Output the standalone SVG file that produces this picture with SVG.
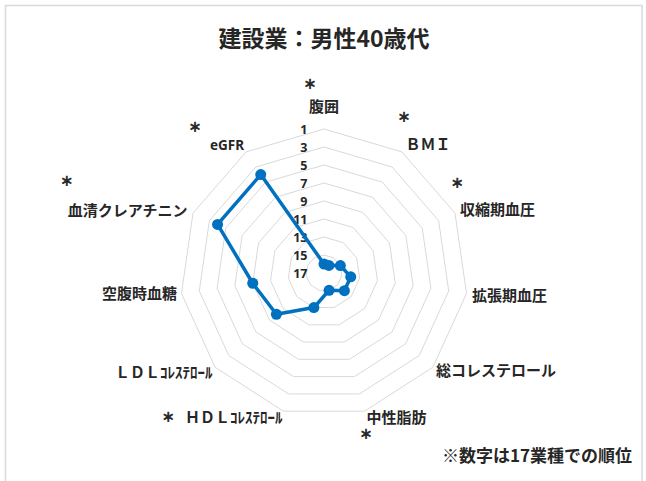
<svg xmlns="http://www.w3.org/2000/svg" width="646" height="481" viewBox="0 0 646 481">
<style>
.jp{font-family:"Noto Sans CJK JP","Noto Sans",sans-serif;font-weight:700;fill:#262626}
.lbl{font-size:15px}
.ast{font-size:12.5px;text-anchor:middle;stroke:#262626;stroke-width:0.7}
.tick{font-family:"Noto Sans","Liberation Sans",sans-serif;font-weight:700;font-size:12.5px;fill:#262626;text-anchor:end}
.ring{fill:none;stroke:#d9d9d9;stroke-width:1}
.series{fill:none;stroke:#0070c0;stroke-width:3.5;stroke-linejoin:round}
.mk{fill:#0070c0}
</style>
<rect width="646" height="481" fill="#ffffff"/>
<path d="M5.5 481V5.5H642V481" fill="none" stroke="#d9d9d9" stroke-width="1.5"/>
<text class="jp" x="324" y="47" font-size="23" text-anchor="middle">建設業：男性40歳代</text>
<g id="grid">
<polygon class="ring" points="324,255 333.73,257.86 340.37,265.52 341.82,275.56 337.6,284.79 329.07,290.27 318.93,290.27 310.4,284.79 306.18,275.56 307.63,265.52 314.27,257.86"/>
<polygon class="ring" points="324,237 343.46,242.71 356.75,258.04 359.63,278.12 351.21,296.57 334.14,307.54 313.86,307.54 296.79,296.57 288.37,278.12 291.25,258.04 304.54,242.71"/>
<polygon class="ring" points="324,219 353.19,227.57 373.12,250.57 377.45,280.68 364.81,308.36 339.21,324.81 308.79,324.81 283.19,308.36 270.55,280.68 274.88,250.57 294.81,227.57"/>
<polygon class="ring" points="324,201 362.93,212.43 389.49,243.09 395.27,283.25 378.41,320.15 344.28,342.08 303.72,342.08 269.59,320.15 252.73,283.25 258.51,243.09 285.07,212.43"/>
<polygon class="ring" points="324,183 372.66,197.29 405.87,235.61 413.08,285.81 392.02,331.94 349.36,359.35 298.64,359.35 255.98,331.94 234.92,285.81 242.13,235.61 275.34,197.29"/>
<polygon class="ring" points="324,165 382.39,182.14 422.24,228.13 430.9,288.37 405.62,343.72 354.43,376.62 293.57,376.62 242.38,343.72 217.1,288.37 225.76,228.13 265.61,182.14"/>
<polygon class="ring" points="324,147 392.12,167 438.61,220.66 448.72,290.93 419.22,355.51 359.5,393.9 288.5,393.9 228.78,355.51 199.28,290.93 209.39,220.66 255.88,167"/>
<polygon class="ring" points="324,129 401.85,151.86 454.99,213.18 466.53,293.49 432.83,367.3 364.57,411.17 283.43,411.17 215.17,367.3 181.47,293.49 193.01,213.18 246.15,151.86"/>
</g>
<g id="ticks">
<text class="tick" x="307.5" y="133.5">1</text>
<text class="tick" x="307.5" y="151.5">3</text>
<text class="tick" x="307.5" y="169.5">5</text>
<text class="tick" x="307.5" y="187.5">7</text>
<text class="tick" x="307.5" y="205.5">9</text>
<text class="tick" x="307.5" y="223.5">11</text>
<text class="tick" x="307.5" y="241.5">13</text>
<text class="tick" x="307.5" y="259.5">15</text>
<text class="tick" x="307.5" y="277.5">17</text>
</g>
<g id="connectors">
<polygon class="series" points="324,264 328.87,265.43 340.37,265.52 350.73,276.84 344.41,290.68 329.07,290.27 313.86,307.54 276.39,314.26 252.73,283.25 217.57,224.4 260.75,174.57"/>
</g>
<g id="markers">
<circle class="mk" cx="324" cy="264" r="5.5"/>
<circle class="mk" cx="328.87" cy="265.43" r="5.5"/>
<circle class="mk" cx="340.37" cy="265.52" r="5.5"/>
<circle class="mk" cx="350.73" cy="276.84" r="5.5"/>
<circle class="mk" cx="344.41" cy="290.68" r="5.5"/>
<circle class="mk" cx="329.07" cy="290.27" r="5.5"/>
<circle class="mk" cx="313.86" cy="307.54" r="5.5"/>
<circle class="mk" cx="276.39" cy="314.26" r="5.5"/>
<circle class="mk" cx="252.73" cy="283.25" r="5.5"/>
<circle class="mk" cx="217.57" cy="224.4" r="5.5"/>
<circle class="mk" cx="260.75" cy="174.57" r="5.5"/>
</g>
<g id="axis-fukui">
<text class="jp ast" x="310" y="88.7">＊</text>
<text class="jp lbl" x="324" y="112.2" text-anchor="middle">腹囲</text>
</g>
<g id="axis-bmi">
<text class="jp ast" x="404" y="122.4">＊</text>
<text class="jp lbl" x="405.5" y="150.2">ＢＭＩ</text>
</g>
<g id="axis-sbp">
<text class="jp ast" x="457.3" y="188">＊</text>
<text class="jp lbl" x="460" y="215.4">収縮期血圧</text>
</g>
<g id="axis-dbp">
<text class="jp lbl" x="472" y="300.7">拡張期血圧</text>
</g>
<g id="axis-tc">
<text class="jp lbl" x="436" y="376.2">総コレステロール</text>
</g>
<g id="axis-tg">
<text class="jp lbl" x="366.5" y="423">中性脂肪</text>
<text class="jp ast" x="366" y="438.7">＊</text>
</g>
<g id="axis-hdl">
<text class="jp ast" x="168.3" y="422.4">＊</text>
<text class="jp lbl" x="282.5" y="423.4" text-anchor="end">ＨＤＬｺﾚｽﾃﾛｰﾙ</text>
</g>
<g id="axis-ldl">
<text class="jp lbl" x="212.5" y="378" text-anchor="end">ＬＤＬｺﾚｽﾃﾛｰﾙ</text>
</g>
<g id="axis-fbg">
<text class="jp lbl" x="177" y="299.2" text-anchor="end">空腹時血糖</text>
</g>
<g id="axis-cre">
<text class="jp ast" x="66.7" y="186.4">＊</text>
<text class="jp lbl" x="187.5" y="215.7" text-anchor="end">血清クレアチニン</text>
</g>
<g id="axis-egfr">
<text class="jp ast" x="195" y="132">＊</text>
<text x="244" y="150.3" text-anchor="end" font-family="Noto Sans, Liberation Sans, sans-serif" font-weight="700" font-size="13.5" fill="#262626">eGFR</text>
</g>
<text class="jp" x="632" y="461.5" font-size="17" text-anchor="end">※数字は17業種での順位</text>
</svg>
